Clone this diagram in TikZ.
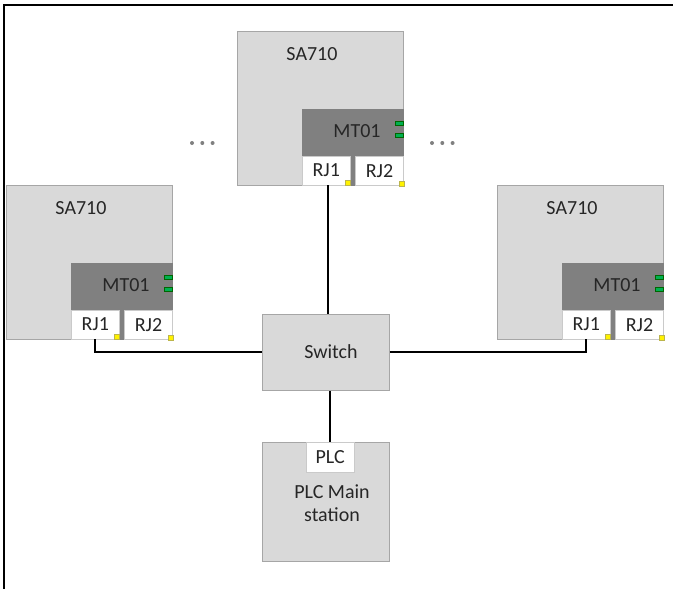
\documentclass[tikz,border=0pt]{standalone}
\usepackage{fontspec}
\setmainfont{Carlito}
\usetikzlibrary{positioning}
\definecolor{boxgray}{HTML}{D9D9D9}
\definecolor{edgegray}{HTML}{A6A6A6}
\definecolor{modgray}{HTML}{808080}
\definecolor{ledgreen}{HTML}{00B050}
\begin{document}
\begin{tikzpicture}[x=1pt, y=-1pt,
        unit/.style={draw=edgegray, line width=0.8pt, fill=boxgray, inner sep=0pt},
        module/.style={fill=modgray, inner sep=0pt, minimum width=102pt, minimum height=77pt},
        port/.style={draw=edgegray!60, line width=0.5pt, fill=white, inner sep=0pt,
                minimum width=48pt, minimum height=29pt},
        txt/.style={font=\fontsize{20}{23}\selectfont, text=black!85, align=center},
        wire/.style={line width=2pt, black}
    ]
    \useasboundingbox (0,0) rectangle (673,589);
    \draw[line width=2pt] (4,589) -- (4,5) -- (673,5);

    % SA710 stations
    \foreach \name/\x/\y in {top/237/31, left/6/185, right/497/185} {
        \node[unit, minimum width=166pt, minimum height=154pt, anchor=north west] (sa-\name) at (\x,\y) {};
        \node[txt] (satxt-\name) at (\x+75,\y+23) {SA710};
        \node[module, anchor=south east] (mt-\name) at (sa-\name.south east) {};
        \node[txt] (mttxt-\name) at (\x+120,\y+100) {MT01};
        \fill[ledgreen, draw=green!40!black, line width=0.4pt] (\x+158,\y+90) rectangle (\x+166,\y+94);
        \fill[ledgreen, draw=green!40!black, line width=0.4pt] (\x+158,\y+102) rectangle (\x+166,\y+106);
        \node[port, anchor=south west] (rja-\name) at (\x+65,\y+154) {};
        \node[port, anchor=south east] (rjb-\name) at (sa-\name.south east) {};
        \node[txt] at (rja-\name) {RJ1};
        \node[txt] at (rjb-\name) {RJ2};
        \fill[yellow, draw=olive!60, line width=0.3pt] ([shift={(-5,-5)}]rja-\name.south east) rectangle (rja-\name.south east);
        \fill[yellow, draw=olive!60, line width=0.3pt] ([shift={(-5,-5)}]rjb-\name.south east) rectangle (rjb-\name.south east);
    }

    % more stations
    \foreach \d in {0,1,2} {
        \fill[modgray] (192+\d*10.3,143) circle (2pt);
        \fill[modgray] (432+\d*10.3,143) circle (2pt);
    }

    \node[unit, minimum width=127pt, minimum height=76pt, anchor=north west] (sw) at (262,314) {};
    \node[txt] (swtxt) at (331,352) {Switch};
    \node[unit, minimum width=127pt, minimum height=119pt, anchor=north west] (plcst) at (262,442) {};
    \node[port, anchor=north west, minimum height=30pt] (plcport) at (306,442) {};
    \node[txt] at (plcport) {PLC};
    \node[txt] (plctxt) at (332,503) {PLC Main\\station};

    \draw[wire] ([xshift=2pt]rja-top.south) -- ([xshift=2pt]rja-top.south |- sw.north);
    \draw[wire] (rja-left.south) |- (sw.west);
    \draw[wire] (sw.east) -| (rja-right.south);
    \draw[wire] (sw.south -| plcport.north) -- (plcport.north);
\end{tikzpicture}
\end{document}
